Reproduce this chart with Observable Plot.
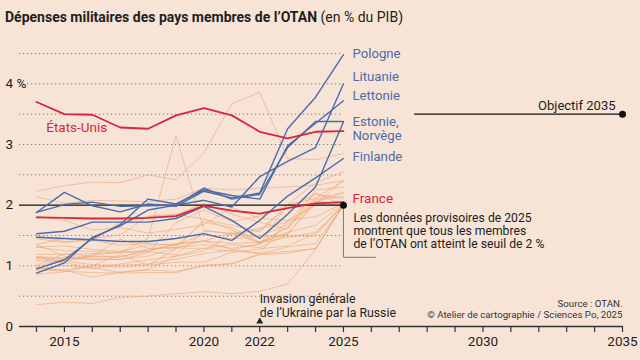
<!DOCTYPE html>
<html><head><meta charset="utf-8">
<script src="https://cdn.jsdelivr.net/npm/d3@7"></script>
<script src="https://cdn.jsdelivr.net/npm/@observablehq/plot@0.6"></script>
<style>
html,body{margin:0;padding:0;background:#f7e4d7;}
#wrap{position:relative;width:640px;height:360px;font-family:Roboto,"Noto Sans",sans-serif;}
#title{position:absolute;left:5px;top:9px;font-size:14px;color:#1e1e1e;white-space:nowrap;}
#title b{font-weight:700;}
svg{display:block;}
</style></head>
<body><div id="wrap"><div id="title"><b>Dépenses militaires des pays membres de l’OTAN</b> (en % du PIB)</div></div>
<script>
const years = [2014,2015,2016,2017,2018,2019,2020,2021,2022,2023,2024,2025];
// highlighted
const etatsUnis = [3.70,3.50,3.49,3.28,3.26,3.48,3.60,3.48,3.21,3.10,3.21,3.22];
const france    = [1.80,1.79,1.78,1.78,1.79,1.82,1.99,1.91,1.86,1.95,2.03,2.05];
const pologne   = [1.88,2.21,1.99,1.89,2.02,1.98,2.23,2.12,2.20,3.26,3.78,4.48];
const lituanie  = [0.88,1.05,1.47,1.66,1.92,2.00,2.08,1.97,2.47,2.72,2.95,4.00];
const lettonie  = [0.95,1.10,1.45,1.68,2.10,2.02,2.25,2.16,2.10,2.98,3.35,3.72];
const estonie   = [1.88,2.01,2.05,1.98,1.99,2.00,2.28,2.10,2.18,2.95,3.38,3.38];
const norvege   = [1.53,1.57,1.72,1.72,1.72,1.78,1.98,1.75,1.45,1.85,2.30,3.37];
const finlande  = [1.47,1.45,1.43,1.40,1.40,1.45,1.53,1.42,1.75,2.15,2.45,2.77];
// other members
const albanie   = [1.35,1.16,1.10,1.11,1.16,1.29,1.29,1.24,1.21,1.75,2.00,2.00];
const belgique  = [0.97,0.91,0.89,0.88,0.89,0.89,1.01,1.04,1.18,1.21,1.29,2.00];
const bulgarie  = [1.31,1.25,1.24,1.22,1.45,3.15,1.59,1.52,1.59,1.96,2.18,2.11];
const canada    = [1.01,1.20,1.16,1.44,1.29,1.30,1.41,1.27,1.20,1.31,1.37,2.00];
const croatie   = [1.82,1.75,1.59,1.63,1.54,1.60,1.68,1.96,1.78,1.75,1.81,2.03];
const tchequie  = [0.94,1.01,0.95,1.03,1.10,1.16,1.29,1.35,1.30,1.52,2.07,2.01];
const danemark  = [1.15,1.11,1.15,1.14,1.28,1.30,1.35,1.29,1.35,2.01,2.37,2.55];
const allemagne = [1.19,1.19,1.20,1.23,1.25,1.35,1.51,1.44,1.49,1.68,2.12,2.40];
const grece     = [2.23,2.32,2.38,2.37,2.50,2.42,2.86,3.67,3.86,2.77,2.75,2.85];
const hongrie   = [0.86,0.90,1.00,1.19,1.01,1.28,1.76,1.67,1.56,2.01,2.11,2.21];
const italie    = [1.14,1.07,1.18,1.22,1.23,1.18,1.57,1.54,1.49,1.49,1.49,2.01];
const luxembourg= [0.36,0.40,0.38,0.48,0.50,0.54,0.57,0.54,0.58,0.70,1.27,2.00];
const montenegro= [1.50,1.40,1.42,1.34,1.37,1.33,1.72,1.63,1.39,1.55,1.67,2.02];
const paysBas   = [1.15,1.13,1.16,1.15,1.24,1.36,1.41,1.37,1.39,1.64,2.05,2.20];
const macedoine = [1.09,1.05,0.97,0.89,0.94,1.16,1.24,1.53,1.62,1.72,2.20,2.00];
const portugal  = [1.31,1.33,1.27,1.24,1.34,1.36,1.41,1.54,1.38,1.47,1.55,2.00];
const roumanie  = [1.35,1.45,1.41,1.72,1.81,1.84,2.03,1.85,1.72,1.60,2.25,2.30];
const slovaquie = [0.99,1.11,1.12,1.10,1.22,1.71,1.92,1.73,1.82,2.00,2.00,2.00];
const slovenie  = [0.97,0.93,1.00,0.98,1.01,1.06,1.06,1.22,1.28,1.33,1.53,2.01];
const espagne   = [0.92,0.93,0.81,0.90,0.93,0.91,1.00,1.03,1.20,1.24,1.28,2.00];
const suede     = [1.12,1.08,1.02,1.01,1.03,1.11,1.20,1.26,1.37,1.54,2.02,2.41];
const turquie   = [1.45,1.38,1.45,1.51,1.82,1.85,1.77,1.59,1.37,1.64,2.09,2.14];
const royaumeUni= [2.14,2.03,2.08,2.07,2.06,2.10,2.28,2.25,2.28,2.30,2.33,2.40];

const yGrid = [0.5,1,1.5,2.5,3,3.5,4,4.5];
const yTickValues = [0,1,2,3,4];
const yTickLabels = ["0","1","2","3","4 %"];
const xTickLabels = [2015,2020,2022,2025,2030,2035];
const allYears = d3.range(2014, 2036);

const toRows = (pairs) => pairs.flatMap(([name, vals]) => vals.map((v,i) => ({country:name, year:years[i], value:v})));
const beige = toRows([["Albanie",albanie],["Belgique",belgique],["Bulgarie",bulgarie],["Canada",canada],["Croatie",croatie],["Tchéquie",tchequie],["Danemark",danemark],["Allemagne",allemagne],["Grèce",grece],["Hongrie",hongrie],["Italie",italie],["Luxembourg",luxembourg],["Monténégro",montenegro],["Pays-Bas",paysBas],["Macédoine du Nord",macedoine],["Portugal",portugal],["Roumanie",roumanie],["Slovaquie",slovaquie],["Slovénie",slovenie],["Espagne",espagne],["Suède",suede],["Turquie",turquie],["Royaume-Uni",royaumeUni]]);
const blue = toRows([["Pologne",pologne],["Lituanie",lituanie],["Lettonie",lettonie],["Estonie",estonie],["Norvège",norvege],["Finlande",finlande]]);
const red = toRows([["États-Unis",etatsUnis],["France",france]]);

const BLUE = "#4a6cab", RED = "#d7263d", BEIGE = "#eda575", INK = "#1e1e1e";
const xStart = 2013.39;

const chart = Plot.plot({
  width: 640, height: 360,
  marginLeft: 36, marginRight: 18, marginTop: 53, marginBottom: 34,
  x: {domain: [2014, 2035], axis: null},
  y: {domain: [0, 4.5], axis: null},
  style: {background: "#f7e4d7", fontFamily: "Roboto, 'Noto Sans', sans-serif", color: INK},
  marks: [
    Plot.ruleY(yGrid, {x1: xStart, x2: 2025, stroke: "#7d7d7d", strokeDasharray: "1.2,2.8", strokeWidth: 1}),
    Plot.line(beige, {x: "year", y: "value", z: "country", stroke: BEIGE, strokeOpacity: 0.6, strokeWidth: 1}),
    Plot.ruleY([2], {x1: xStart, x2: 2025, stroke: "#111", strokeWidth: 1.3}),
    Plot.line(blue, {x: "year", y: "value", z: "country", stroke: BLUE, strokeWidth: 1.4}),
    Plot.line(red, {x: "year", y: "value", z: "country", stroke: RED, strokeWidth: 1.8}),
    Plot.ruleY([3.5], {x1: 2027.55, x2: 2035, stroke: "#111", strokeWidth: 1.3}),
    Plot.line([{x: 2025, y: 2}, {x: 2025, y: 1.14}, {x: 2026.15, y: 1.14}], {x: "x", y: "y", stroke: "#7a7a7a", strokeWidth: 1}),
    Plot.dot([{x: 2025, y: 2}, {x: 2035, y: 3.5}], {x: "x", y: "y", r: 3.5, fill: "#111"}),
    // axis
    Plot.ruleY([0], {x1: xStart, x2: 2035, stroke: "#333", strokeWidth: 1.5}),
    Plot.ruleX(allYears, {x: d => d, y1: 0, y2: -0.1, stroke: "#333", strokeWidth: 1.2}),
    Plot.text(xTickLabels, {x: d => d, y: 0, dy: 15, text: d => String(d), fontSize: 13.5, fill: INK}),
    Plot.text(yTickValues, {y: d => d, text: (d, i) => yTickLabels[i], frameAnchor: "left", dx: -31, textAnchor: "start", fontSize: 13.5, fill: INK}),
    Plot.dot([2022], {x: d => d, y: 0, dy: -5, symbol: "triangle", r: 2.6, fill: "#222"}),
    // labels
    Plot.text([
      {y: 4.51, t: "Pologne"}, {y: 4.13, t: "Lituanie"}, {y: 3.81, t: "Lettonie"},
      {y: 3.27, t: "Estonie,\nNorvège"}, {y: 2.81, t: "Finlande"}
    ], {x: 2025, y: "y", text: "t", dx: 9, textAnchor: "start", fill: BLUE, fontSize: 13.2, lineHeight: 1.1}),
    Plot.text([{y: 2.11, t: "France"}], {x: 2025, y: "y", text: "t", dx: 9, textAnchor: "start", fill: RED, fontSize: 13.5}),
    Plot.text([{y: 3.28, t: "États-Unis"}], {x: 2014.35, y: "y", text: "t", textAnchor: "start", fill: RED, fontSize: 13.5}),
    Plot.text([{y: 3.5, t: "Objectif 2035"}], {x: 2035, y: "y", text: "t", dx: -7, dy: -8, textAnchor: "end", fill: INK, fontSize: 13}),
    Plot.text([{y: 1.58, t: "Les données provisoires de 2025\nmontrent que tous les membres\nde l’OTAN ont atteint le seuil de 2 %"}],
      {x: 2025, y: "y", text: "t", dx: 10, textAnchor: "start", lineAnchor: "middle", fill: INK, fontSize: 12.2, lineHeight: 1.05}),
    Plot.text([{y: 0.34, t: "Invasion générale\nde l’Ukraine par la Russie"}],
      {x: 2022, y: "y", text: "t", textAnchor: "start", lineAnchor: "middle", fill: INK, fontSize: 12.3, lineHeight: 1.12}),
    Plot.text([{y: 0.29, t: "Source : OTAN.\n© Atelier de cartographie / Sciences Po, 2025"}],
      {x: 2035, y: "y", text: "t", textAnchor: "end", lineAnchor: "middle", fill: "#333", fontSize: 9.7, lineHeight: 1.15})
  ]
});
document.getElementById("wrap").prepend(chart);
</script>
</body></html>
